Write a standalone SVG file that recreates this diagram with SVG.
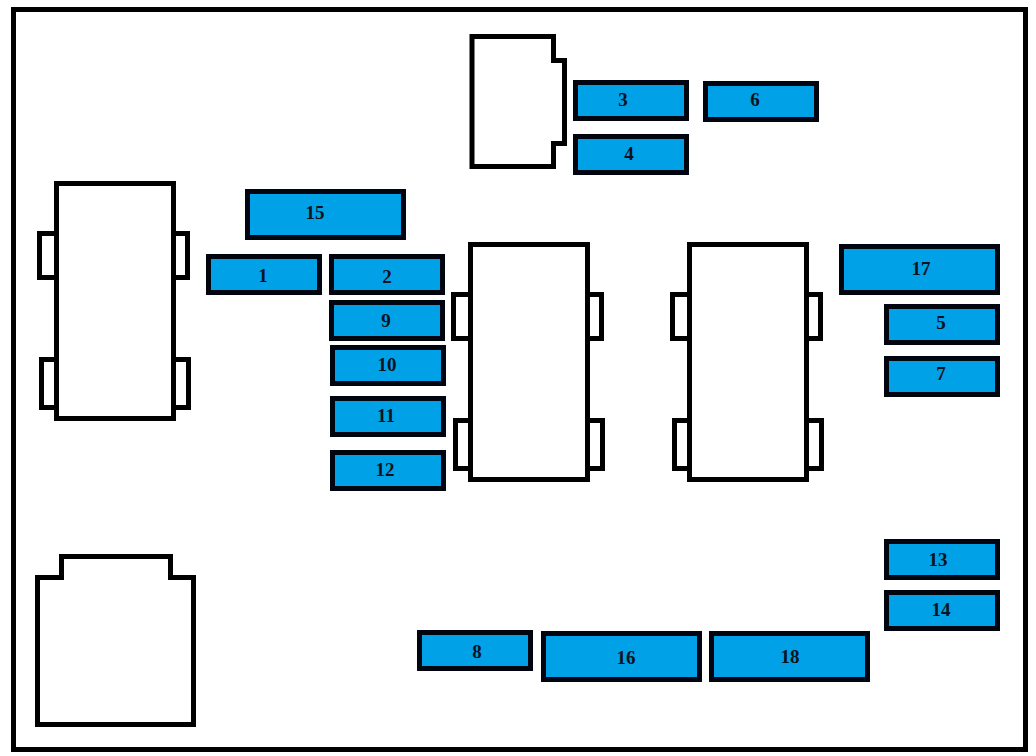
<svg xmlns="http://www.w3.org/2000/svg" width="1036" height="756" viewBox="0 0 1036 756">
<style>
.o{fill:#fff;stroke:#000;stroke-width:5}
.f{fill:#00a1e6;stroke:#00050f;stroke-width:5}
.t{font-family:"Liberation Serif","Times New Roman",serif;font-weight:700;font-size:19px;fill:#0b1220;text-anchor:middle}
</style>
<rect width="1036" height="756" fill="#fff"/>
<rect id="frame" x="13.5" y="9.5" width="1012" height="740" fill="none" stroke="#000" stroke-width="5"/>
<g id="connector-top"><path class="o" d="M472 36.5H553.5V60.5H564.5V143.5H553.5V166.5H472Z"/></g>
<g id="connector-bottom"><path class="o" d="M37.5 577.5H61.5V556.5H170.5V577.5H193.5V724.5H37.5Z"/></g>
<g id="relay-left">
<rect class="o" x="39.5" y="233.5" width="20" height="44"/>
<rect class="o" x="170" y="233.5" width="17.5" height="44"/>
<rect class="o" x="41.5" y="359.5" width="18" height="48"/>
<rect class="o" x="170" y="359.5" width="18.5" height="48"/>
<rect class="o" x="56.5" y="183.5" width="117" height="235"/>
</g>
<g id="relay-middle">
<rect class="o" x="453.5" y="294.5" width="20" height="44"/>
<rect class="o" x="584" y="294.5" width="17.5" height="44"/>
<rect class="o" x="455.5" y="420.5" width="18" height="48"/>
<rect class="o" x="584" y="420.5" width="18.5" height="48"/>
<rect class="o" x="470.5" y="244.5" width="117" height="235"/>
</g>
<g id="relay-right">
<rect class="o" x="672.5" y="294.5" width="20" height="44"/>
<rect class="o" x="803" y="294.5" width="17.5" height="44"/>
<rect class="o" x="674.5" y="420.5" width="18" height="48"/>
<rect class="o" x="803" y="420.5" width="18.5" height="48"/>
<rect class="o" x="689.5" y="244.5" width="117" height="235"/>
</g>
<g id="fuse-1"><rect class="f" x="208.5" y="256.5" width="111" height="36"/><text class="t" x="263" y="282">1</text></g>
<g id="fuse-2"><rect class="f" x="331.5" y="256.5" width="111" height="36"/><text class="t" x="387" y="283">2</text></g>
<g id="fuse-3"><rect class="f" x="575.5" y="82.5" width="111" height="36"/><text class="t" x="623" y="106">3</text></g>
<g id="fuse-4"><rect class="f" x="575.5" y="136.5" width="111" height="36"/><text class="t" x="629" y="160">4</text></g>
<g id="fuse-5"><rect class="f" x="886.5" y="306.5" width="111" height="36"/><text class="t" x="941" y="329">5</text></g>
<g id="fuse-6"><rect class="f" x="705.5" y="83.5" width="111" height="36"/><text class="t" x="755" y="106">6</text></g>
<g id="fuse-7"><rect class="f" x="886.5" y="358.5" width="111" height="36"/><text class="t" x="941" y="380">7</text></g>
<g id="fuse-8"><rect class="f" x="419.5" y="632.5" width="111" height="36"/><text class="t" x="477" y="658">8</text></g>
<g id="fuse-9"><rect class="f" x="331.5" y="302.5" width="111" height="36"/><text class="t" x="386" y="327">9</text></g>
<g id="fuse-10"><rect class="f" x="332.5" y="347.5" width="111" height="36"/><text class="t" x="387" y="371">10</text></g>
<g id="fuse-11"><rect class="f" x="332.5" y="398.5" width="111" height="36"/><text class="t" x="386" y="422">11</text></g>
<g id="fuse-12"><rect class="f" x="332.5" y="452.5" width="111" height="36"/><text class="t" x="385" y="476">12</text></g>
<g id="fuse-13"><rect class="f" x="886.5" y="541.5" width="111" height="36"/><text class="t" x="938" y="566">13</text></g>
<g id="fuse-14"><rect class="f" x="886.5" y="592.5" width="111" height="36"/><text class="t" x="941" y="616">14</text></g>
<g id="fuse-15"><rect class="f" x="247.5" y="191.5" width="156" height="46"/><text class="t" x="315" y="219">15</text></g>
<g id="fuse-16"><rect class="f" x="543.5" y="633.5" width="156" height="46"/><text class="t" x="626" y="664">16</text></g>
<g id="fuse-17"><rect class="f" x="841.5" y="246.5" width="156" height="46"/><text class="t" x="921" y="275">17</text></g>
<g id="fuse-18"><rect class="f" x="711.5" y="633.5" width="156" height="46"/><text class="t" x="790" y="663">18</text></g>
</svg>
